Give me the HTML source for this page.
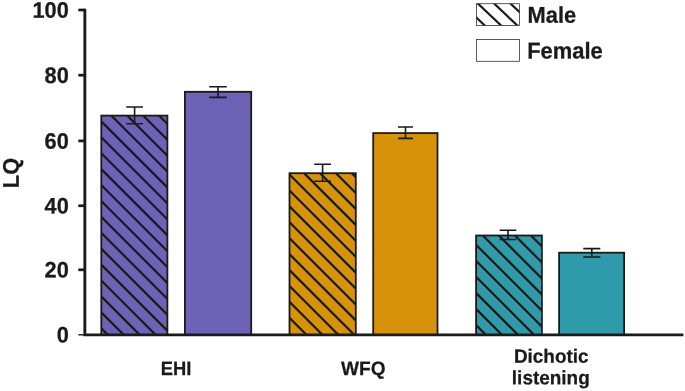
<!DOCTYPE html>
<html lang="en"><head><meta charset="utf-8"><title>LQ by sex</title>
<style>html,body{margin:0;padding:0;background:#fff;}body{width:685px;height:391px;overflow:hidden;font-family:"Liberation Sans",Arial,sans-serif;}svg{display:block;}</style>
</head><body>
<svg width="685" height="391" viewBox="0 0 685 391">
<rect width="685" height="391" fill="#ffffff"/>
<defs>
<clipPath id="c0"><rect x="101.30" y="115.60" width="66.10" height="219.30"/></clipPath>
<clipPath id="c1"><rect x="184.90" y="91.80" width="66.30" height="243.10"/></clipPath>
<clipPath id="c2"><rect x="289.50" y="173.20" width="66.30" height="161.70"/></clipPath>
<clipPath id="c3"><rect x="373.20" y="133.10" width="64.30" height="201.80"/></clipPath>
<clipPath id="c4"><rect x="476.10" y="235.50" width="65.80" height="99.40"/></clipPath>
<clipPath id="c5"><rect x="559.10" y="252.70" width="65.00" height="82.20"/></clipPath>
<clipPath id="cl"><rect x="476.5" y="3.7" width="43.1" height="21.7"/></clipPath>
</defs>
<rect x="101.30" y="115.60" width="66.10" height="219.30" fill="#6e62b7"/>
<path d="M98.30 22.99L170.40 95.09M98.30 38.90L170.40 111.00M98.30 54.81L170.40 126.91M98.30 70.72L170.40 142.82M98.30 86.63L170.40 158.73M98.30 102.54L170.40 174.64M98.30 118.45L170.40 190.55M98.30 134.36L170.40 206.46M98.30 150.27L170.40 222.37M98.30 166.18L170.40 238.28M98.30 182.09L170.40 254.19M98.30 198.00L170.40 270.10M98.30 213.91L170.40 286.01M98.30 229.82L170.40 301.92M98.30 245.73L170.40 317.83M98.30 261.64L170.40 333.74M98.30 277.55L170.40 349.65M98.30 293.46L170.40 365.56M98.30 309.37L170.40 381.47M98.30 325.28L170.40 397.38M98.30 341.19L170.40 413.29M98.30 357.10L170.40 429.20" stroke="#1a1a1a" stroke-width="2.2" fill="none" clip-path="url(#c0)"/>
<rect x="101.30" y="115.60" width="66.10" height="219.30" fill="none" stroke="#1a1a1a" stroke-width="1.8"/>
<path d="M126.20 107.00H143.00M126.20 123.80H143.00M134.60 107.00V123.80" stroke="#1a1a1a" stroke-width="1.6" fill="none"/>
<rect x="184.90" y="91.80" width="66.30" height="243.10" fill="#6e62b7"/>
<rect x="184.90" y="91.80" width="66.30" height="243.10" fill="none" stroke="#1a1a1a" stroke-width="1.8"/>
<path d="M209.20 86.72H226.80M209.20 97.42H226.80M218.00 86.72V97.42" stroke="#1a1a1a" stroke-width="1.6" fill="none"/>
<rect x="289.50" y="173.20" width="66.30" height="161.70" fill="#d69208"/>
<path d="M286.50 75.99L358.80 148.29M286.50 91.92L358.80 164.21M286.50 107.84L358.80 180.14M286.50 123.76L358.80 196.06M286.50 139.68L358.80 211.98M286.50 155.61L358.80 227.91M286.50 171.53L358.80 243.83M286.50 187.45L358.80 259.75M286.50 203.38L358.80 275.68M286.50 219.30L358.80 291.60M286.50 235.22L358.80 307.52M286.50 251.14L358.80 323.44M286.50 267.07L358.80 339.37M286.50 282.99L358.80 355.29M286.50 298.91L358.80 371.21M286.50 314.84L358.80 387.14M286.50 330.76L358.80 403.06M286.50 346.68L358.80 418.98M286.50 362.61L358.80 434.91" stroke="#1a1a1a" stroke-width="2.2" fill="none" clip-path="url(#c2)"/>
<rect x="289.50" y="173.20" width="66.30" height="161.70" fill="none" stroke="#1a1a1a" stroke-width="1.8"/>
<path d="M314.20 164.24H331.00M314.20 181.24H331.00M322.60 164.24V181.24" stroke="#1a1a1a" stroke-width="1.6" fill="none"/>
<rect x="373.20" y="133.10" width="64.30" height="201.80" fill="#d69208"/>
<rect x="373.20" y="133.10" width="64.30" height="201.80" fill="none" stroke="#1a1a1a" stroke-width="1.8"/>
<path d="M398.00 126.93H413.00M398.00 138.33H413.00M405.50 126.93V138.33" stroke="#1a1a1a" stroke-width="1.6" fill="none"/>
<rect x="476.10" y="235.50" width="65.80" height="99.40" fill="#2e9aaa"/>
<path d="M473.10 145.51L544.90 217.31M473.10 161.56L544.90 233.36M473.10 177.61L544.90 249.41M473.10 193.66L544.90 265.46M473.10 209.71L544.90 281.51M473.10 225.76L544.90 297.56M473.10 241.81L544.90 313.61M473.10 257.86L544.90 329.66M473.10 273.91L544.90 345.71M473.10 289.96L544.90 361.76M473.10 306.01L544.90 377.81M473.10 322.06L544.90 393.86M473.10 338.11L544.90 409.91M473.10 354.16L544.90 425.96" stroke="#1a1a1a" stroke-width="2.2" fill="none" clip-path="url(#c4)"/>
<rect x="476.10" y="235.50" width="65.80" height="99.40" fill="none" stroke="#1a1a1a" stroke-width="1.8"/>
<path d="M499.70 230.25H516.30M499.70 239.45H516.30M508.00 230.25V239.45" stroke="#1a1a1a" stroke-width="1.6" fill="none"/>
<rect x="559.10" y="252.70" width="65.00" height="82.20" fill="#2e9aaa"/>
<rect x="559.10" y="252.70" width="65.00" height="82.20" fill="none" stroke="#1a1a1a" stroke-width="1.8"/>
<path d="M583.30 248.60H600.30M583.30 257.00H600.30M591.80 248.60V257.00" stroke="#1a1a1a" stroke-width="1.6" fill="none"/>
<path d="M84.85 8.85V334.9H683.4" stroke="#1a1a1a" stroke-width="2.85" fill="none" stroke-linejoin="miter"/>
<path d="M78.3 269.80H84.85" stroke="#1a1a1a" stroke-width="2.7"/>
<path d="M78.3 205.75H84.85" stroke="#1a1a1a" stroke-width="2.7"/>
<path d="M78.3 140.90H84.85" stroke="#1a1a1a" stroke-width="2.7"/>
<path d="M78.3 75.20H84.85" stroke="#1a1a1a" stroke-width="2.7"/>
<path d="M78.3 10.00H84.85" stroke="#1a1a1a" stroke-width="2.7"/>
<path d="M78.3 334.80H84.85" stroke="#1a1a1a" stroke-width="1.4"/>
<text transform="translate(68.8 342.55) rotate(0.03) scale(1.037 1.07)" font-family="'Liberation Sans', Arial, Helvetica, sans-serif" font-weight="bold" font-size="21" text-anchor="end" fill="#1a1a1a" stroke="#1a1a1a" stroke-width="0.25">0</text>
<text transform="translate(68.8 277.55) rotate(0.03) scale(1.037 1.07)" font-family="'Liberation Sans', Arial, Helvetica, sans-serif" font-weight="bold" font-size="21" text-anchor="end" fill="#1a1a1a" stroke="#1a1a1a" stroke-width="0.25">20</text>
<text transform="translate(68.8 213.5) rotate(0.03) scale(1.037 1.07)" font-family="'Liberation Sans', Arial, Helvetica, sans-serif" font-weight="bold" font-size="21" text-anchor="end" fill="#1a1a1a" stroke="#1a1a1a" stroke-width="0.25">40</text>
<text transform="translate(68.8 148.65) rotate(0.03) scale(1.037 1.07)" font-family="'Liberation Sans', Arial, Helvetica, sans-serif" font-weight="bold" font-size="21" text-anchor="end" fill="#1a1a1a" stroke="#1a1a1a" stroke-width="0.25">60</text>
<text transform="translate(68.8 82.95) rotate(0.03) scale(1.037 1.07)" font-family="'Liberation Sans', Arial, Helvetica, sans-serif" font-weight="bold" font-size="21" text-anchor="end" fill="#1a1a1a" stroke="#1a1a1a" stroke-width="0.25">80</text>
<text transform="translate(68.8 17.75) rotate(0.03) scale(1.037 1.07)" font-family="'Liberation Sans', Arial, Helvetica, sans-serif" font-weight="bold" font-size="21" text-anchor="end" fill="#1a1a1a" stroke="#1a1a1a" stroke-width="0.25">100</text>
<text transform="translate(18.75 173.0) rotate(-89.97) scale(1.015 1.055)" font-family="'Liberation Sans', Arial, Helvetica, sans-serif" font-weight="bold" font-size="21.5" text-anchor="middle" fill="#1a1a1a" stroke="#1a1a1a" stroke-width="0.25">LQ</text>
<text transform="translate(176.0 375.1) rotate(0.03) scale(0.965 1.015)" font-family="'Liberation Sans', Arial, Helvetica, sans-serif" font-weight="bold" font-size="19" text-anchor="middle" fill="#1a1a1a" stroke="#1a1a1a" stroke-width="0.25">EHI</text>
<text transform="translate(363.3 375.1) rotate(0.03) scale(1.005 1.015)" font-family="'Liberation Sans', Arial, Helvetica, sans-serif" font-weight="bold" font-size="19" text-anchor="middle" fill="#1a1a1a" stroke="#1a1a1a" stroke-width="0.25">WFQ</text>
<text transform="translate(551.2 362.7) rotate(0.03) scale(0.995 1.015)" font-family="'Liberation Sans', Arial, Helvetica, sans-serif" font-weight="bold" font-size="19" text-anchor="middle" fill="#1a1a1a" stroke="#1a1a1a" stroke-width="0.25">Dichotic</text>
<text transform="translate(550.8 384.3) rotate(0.03) scale(0.998 1.015)" font-family="'Liberation Sans', Arial, Helvetica, sans-serif" font-weight="bold" font-size="19" text-anchor="middle" fill="#1a1a1a" stroke="#1a1a1a" stroke-width="0.25">listening</text>
<rect x="476.5" y="3.7" width="43.1" height="21.7" fill="#fff"/>
<path d="M473.50 -62.16L522.60 -15.76M473.50 -46.76L522.60 -0.36M473.50 -31.36L522.60 15.04M473.50 -15.96L522.60 30.44M473.50 -0.56L522.60 45.84M473.50 14.84L522.60 61.24M473.50 30.24L522.60 76.64M473.50 45.64L522.60 92.04" stroke="#1a1a1a" stroke-width="2.2" fill="none" clip-path="url(#cl)"/>
<rect x="476.5" y="3.7" width="43.1" height="21.7" fill="none" stroke="#333" stroke-width="0.8"/>
<rect x="476.5" y="39.4" width="43.1" height="21.9" fill="#fff" stroke="#333" stroke-width="0.8"/>
<text transform="translate(527.6 22.8) rotate(0.03) scale(1.04 1.09)" font-family="'Liberation Sans', Arial, Helvetica, sans-serif" font-weight="bold" font-size="21" text-anchor="start" fill="#1a1a1a" stroke="#1a1a1a" stroke-width="0.25">Male</text>
<text transform="translate(527.2 58.5) rotate(0.03) scale(1.045 1.09)" font-family="'Liberation Sans', Arial, Helvetica, sans-serif" font-weight="bold" font-size="21" text-anchor="start" fill="#1a1a1a" stroke="#1a1a1a" stroke-width="0.25">Female</text>
</svg>
</body></html>
